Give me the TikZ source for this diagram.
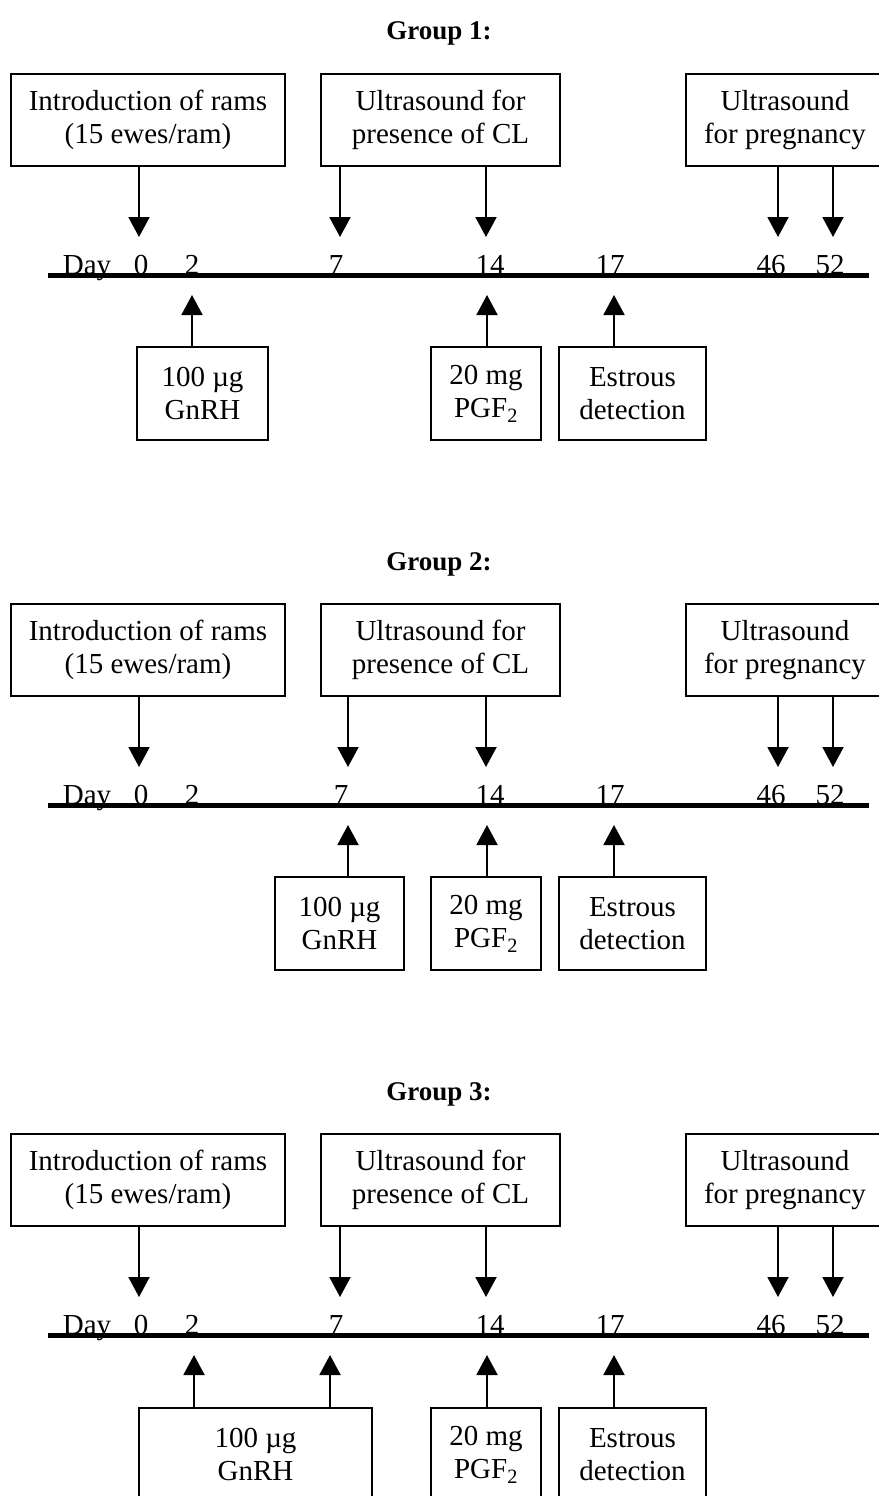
\documentclass[tikz,border=0pt]{standalone}
\usepackage{fontspec}
\setmainfont{Liberation Serif}
\usetikzlibrary{arrows.meta}
\newcommand{\fsmain}{\fontsize{29}{33}\selectfont}
\newcommand{\fstitle}{\fontsize{27}{32}\selectfont\bfseries}
\begin{document}
\begin{tikzpicture}[x=1pt,y=-1pt,
  box/.style={draw, line width=1.5pt, inner sep=0pt, align=center, font=\fsmain},
  topbox/.style={box, minimum height=92pt},
  lowbox/.style={box, minimum height=93pt},
  arr/.style={line width=2pt, -{Triangle[width=21pt,length=20pt]}},
  tl/.style={line width=5pt},
  daylbl/.style={anchor=base, inner sep=0pt, font=\fsmain},
  ttl/.style={anchor=base, inner sep=0pt, font=\fstitle}]
\useasboundingbox (0,0) rectangle (878,1496);

% ---------------- Group 1 ----------------
\node[ttl] (g1title) at (439,40) {Group 1:};
\node[topbox, minimum width=274pt] (g1intro) at (148,120) {Introduction of rams\\(15 ewes/ram)};
\node[topbox, minimum width=239pt] (g1cl) at (440.5,120) {Ultrasound for\\presence of CL};
\node[topbox, minimum width=198pt] (g1preg) at (785,120) {Ultrasound\\for pregnancy};
\coordinate (g1d0) at (139,237);
\coordinate (g1d7) at (340,237);
\coordinate (g1d14) at (486,237);
\coordinate (g1d46) at (778,237);
\coordinate (g1d52) at (833,237);
\draw[arr] (g1intro.south -| g1d0) -- (g1d0);
\draw[arr] (g1cl.south -| g1d7) -- (g1d7);
\draw[arr] (g1cl.south -| g1d14) -- (g1d14);
\draw[arr] (g1preg.south -| g1d46) -- (g1d46);
\draw[arr] (g1preg.south -| g1d52) -- (g1d52);
\coordinate (g1L) at (48,275);
\coordinate (g1R) at (869,275);
\draw[tl] (g1L) -- (g1R);
\node[daylbl] (g1day) at (87,274) {Day};
\node[daylbl] (g1l0) at (141,274) {0};
\node[daylbl] (g1l2) at (192,274) {2};
\node[daylbl] (g1l7) at (336,274) {7};
\node[daylbl] (g1l14) at (490,274) {14};
\node[daylbl] (g1l17) at (610,274) {17};
\node[daylbl] (g1l46) at (771,274) {46};
\node[daylbl] (g1l52) at (830,274) {52};
\node[lowbox, minimum width=131pt] (g1gnrh) at (202.5,393.5) {100 µg\\GnRH};
\node[lowbox, minimum width=110pt] (g1pgf) at (486,393.5) {20 mg\\PGF\textsubscript{2}};
\node[lowbox, minimum width=147pt] (g1est) at (632.5,393.5) {Estrous\\detection};
\coordinate (g1u2) at (192,295);
\coordinate (g1u14) at (487,295);
\coordinate (g1u17) at (614,295);
\draw[arr] (g1gnrh.north -| g1u2) -- (g1u2);
\draw[arr] (g1pgf.north -| g1u14) -- (g1u14);
\draw[arr] (g1est.north -| g1u17) -- (g1u17);

% ---------------- Group 2 ----------------
\node[ttl] (g2title) at (439,570) {Group 2:};
\node[topbox, minimum width=274pt] (g2intro) at (148,650) {Introduction of rams\\(15 ewes/ram)};
\node[topbox, minimum width=239pt] (g2cl) at (440.5,650) {Ultrasound for\\presence of CL};
\node[topbox, minimum width=198pt] (g2preg) at (785,650) {Ultrasound\\for pregnancy};
\coordinate (g2d0) at (139,767);
\coordinate (g2d7) at (348,767);
\coordinate (g2d14) at (486,767);
\coordinate (g2d46) at (778,767);
\coordinate (g2d52) at (833,767);
\draw[arr] (g2intro.south -| g2d0) -- (g2d0);
\draw[arr] (g2cl.south -| g2d7) -- (g2d7);
\draw[arr] (g2cl.south -| g2d14) -- (g2d14);
\draw[arr] (g2preg.south -| g2d46) -- (g2d46);
\draw[arr] (g2preg.south -| g2d52) -- (g2d52);
\coordinate (g2L) at (48,805);
\coordinate (g2R) at (869,805);
\draw[tl] (g2L) -- (g2R);
\node[daylbl] (g2day) at (87,804) {Day};
\node[daylbl] (g2l0) at (141,804) {0};
\node[daylbl] (g2l2) at (192,804) {2};
\node[daylbl] (g2l7) at (341,804) {7};
\node[daylbl] (g2l14) at (490,804) {14};
\node[daylbl] (g2l17) at (610,804) {17};
\node[daylbl] (g2l46) at (771,804) {46};
\node[daylbl] (g2l52) at (830,804) {52};
\node[lowbox, minimum width=129pt] (g2gnrh) at (339.5,923.5) {100 µg\\GnRH};
\node[lowbox, minimum width=110pt] (g2pgf) at (486,923.5) {20 mg\\PGF\textsubscript{2}};
\node[lowbox, minimum width=147pt] (g2est) at (632.5,923.5) {Estrous\\detection};
\coordinate (g2u7) at (348,825);
\coordinate (g2u14) at (487,825);
\coordinate (g2u17) at (614,825);
\draw[arr] (g2gnrh.north -| g2u7) -- (g2u7);
\draw[arr] (g2pgf.north -| g2u14) -- (g2u14);
\draw[arr] (g2est.north -| g2u17) -- (g2u17);

% ---------------- Group 3 ----------------
\node[ttl] (g3title) at (439,1100) {Group 3:};
\node[topbox, minimum width=274pt] (g3intro) at (148,1180) {Introduction of rams\\(15 ewes/ram)};
\node[topbox, minimum width=239pt] (g3cl) at (440.5,1180) {Ultrasound for\\presence of CL};
\node[topbox, minimum width=198pt] (g3preg) at (785,1180) {Ultrasound\\for pregnancy};
\coordinate (g3d0) at (139,1297);
\coordinate (g3d7) at (340,1297);
\coordinate (g3d14) at (486,1297);
\coordinate (g3d46) at (778,1297);
\coordinate (g3d52) at (833,1297);
\draw[arr] (g3intro.south -| g3d0) -- (g3d0);
\draw[arr] (g3cl.south -| g3d7) -- (g3d7);
\draw[arr] (g3cl.south -| g3d14) -- (g3d14);
\draw[arr] (g3preg.south -| g3d46) -- (g3d46);
\draw[arr] (g3preg.south -| g3d52) -- (g3d52);
\coordinate (g3L) at (48,1335);
\coordinate (g3R) at (869,1335);
\draw[tl] (g3L) -- (g3R);
\node[daylbl] (g3day) at (87,1334) {Day};
\node[daylbl] (g3l0) at (141,1334) {0};
\node[daylbl] (g3l2) at (192,1334) {2};
\node[daylbl] (g3l7) at (336,1334) {7};
\node[daylbl] (g3l14) at (490,1334) {14};
\node[daylbl] (g3l17) at (610,1334) {17};
\node[daylbl] (g3l46) at (771,1334) {46};
\node[daylbl] (g3l52) at (830,1334) {52};
\node[lowbox, minimum width=233pt] (g3gnrh) at (255.5,1454.5) {100 µg\\GnRH};
\node[lowbox, minimum width=110pt] (g3pgf) at (486,1454.5) {20 mg\\PGF\textsubscript{2}};
\node[lowbox, minimum width=147pt] (g3est) at (632.5,1454.5) {Estrous\\detection};
\coordinate (g3u2) at (194,1355);
\coordinate (g3u7) at (330,1355);
\coordinate (g3u14) at (487,1355);
\coordinate (g3u17) at (614,1355);
\draw[arr] (g3gnrh.north -| g3u2) -- (g3u2);
\draw[arr] (g3gnrh.north -| g3u7) -- (g3u7);
\draw[arr] (g3pgf.north -| g3u14) -- (g3u14);
\draw[arr] (g3est.north -| g3u17) -- (g3u17);
\end{tikzpicture}
\end{document}
